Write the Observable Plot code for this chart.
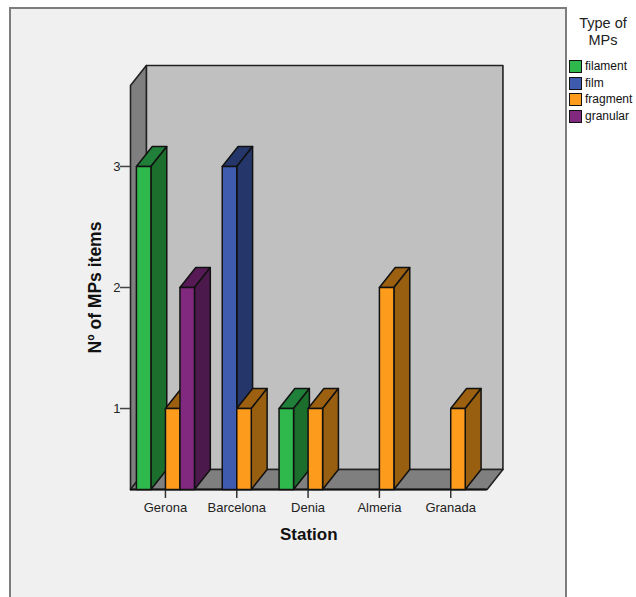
<!DOCTYPE html>
<html>
<head>
<meta charset="utf-8">
<script src="https://cdn.jsdelivr.net/npm/d3@7"></script>
<script src="https://cdn.jsdelivr.net/npm/@observablehq/plot@0.6"></script>
<style>
html,body{margin:0;padding:0;background:#fff;overflow:hidden;width:636px;height:597px;font-family:"Liberation Sans",Arial,sans-serif}
#frame{position:absolute;left:9px;top:7px;width:554px;height:640px;background:#f0f0f0;border:2px solid #7d7d7d;box-sizing:content-box}
#chart{position:absolute;left:0;top:0}
#chart svg{background:transparent;display:block}
#lt{position:absolute;left:570px;width:66px;top:15px;text-align:center;font-size:14.5px;line-height:17px;color:#222}
.li{position:absolute;left:569px;font-size:12px;line-height:14px;color:#111;white-space:nowrap}
.li i{position:absolute;left:0;top:0;width:11px;height:11px;border:1px solid #111;display:block}
.li span{position:absolute;left:16px;top:-1px}
</style>
</head>
<body>
<div id="frame"></div>
<div id="chart"></div>
<div id="lt">Type of<br>MPs</div>
<div id="legend"></div>
<script>
const stations = ["Gerona", "Barcelona", "Denia", "Almeria", "Granada"];
const types = ["filament", "film", "fragment", "granular"];
const filament = [3, 0, 1, 0, 0];
const film = [0, 3, 0, 0, 0];
const fragment = [1, 1, 1, 2, 1];
const granular = [2, 0, 0, 0, 0];
const yTicks = [1, 2, 3];

const series = [filament, film, fragment, granular];
const frontColors = ["#2fb84c", "#3f5bae", "#fd9b1c", "#80297f"];
const sideColors = ["#1c6e2d", "#25376a", "#985f10", "#4c194c"];
const topColors = ["#20803a", "#25376a", "#9d6010", "#571a56"];

const yMin = 0.331, yMax = 3.669, xMin = -0.49, xMax = 4.51;
const depthX = 0.222, depthY = 0.165, slot = 0.2035;

let pid = 0;
function poly(list, pts, fill) {
  const id = pid++;
  for (const [x, y] of pts) list.push({id, x, y, fill});
}
// Chart box
const box = [];
poly(box, [[xMin + depthX, yMin + depthY], [xMax + depthX, yMin + depthY], [xMax + depthX, yMax + depthY], [xMin + depthX, yMax + depthY]], "#c0c0c0");
poly(box, [[xMin, yMin], [xMin + depthX, yMin + depthY], [xMin + depthX, yMax + depthY], [xMin, yMax]], "#7f7f7f");
poly(box, [[xMin, yMin], [xMax, yMin], [xMax + depthX, yMin + depthY], [xMin + depthX, yMin + depthY]], "#7f7f7f");

// Bars in painter's order
const bars = [];
stations.forEach((s, i) => {
  series.forEach((vals, k) => {
    const v = vals[i];
    if (!v) return;
    const x0 = i + (k - 2) * slot, x1 = x0 + slot;
    poly(bars, [[x0, v], [x1, v], [x1 + depthX, v + depthY], [x0 + depthX, v + depthY]], topColors[k]);
    poly(bars, [[x1, yMin], [x1 + depthX, yMin + depthY], [x1 + depthX, v + depthY], [x1, v]], sideColors[k]);
    poly(bars, [[x0, yMin], [x1, yMin], [x1, v], [x0, v]], frontColors[k]);
  });
});

const plot = Plot.plot({
  width: 636, height: 597,
  marginLeft: 130, marginRight: 149.4, marginTop: 85, marginBottom: 108,
  style: {fontFamily: '"Liberation Sans",Arial,sans-serif', fontSize: "13px", color: "#222", background: "transparent", overflow: "visible"},
  x: {type: "linear", domain: [xMin, xMax]},
  y: {type: "linear", domain: [yMin, yMax]},
  marks: [
    Plot.line(box, {x: "x", y: "y", z: "id", fill: "fill", stroke: "#222", strokeWidth: 1.6, curve: "linear-closed"}),
    Plot.ruleY([yMin], {x1: xMin, x2: xMax, stroke: "#111", strokeWidth: 2}),
    Plot.axisY({ticks: yTicks, tickSize: 10, tickPadding: 0, stroke: "#444", strokeWidth: 1.5, tickFormat: d => d, label: null}),
    Plot.axisX({ticks: stations.map((_, i) => i), tickSize: 9, tickPadding: 4, stroke: "#333", strokeWidth: 1.5, tickFormat: d => stations[d], label: null}),
    Plot.line(bars, {x: "x", y: "y", z: "id", fill: "fill", stroke: "#111", strokeWidth: 1.5, curve: "linear-closed"}),
    Plot.text(["Station"], {frameAnchor: "bottom", dy: 45, lineAnchor: "middle", fontSize: 17, fontWeight: "bold", fill: "#111"}),
    Plot.text(["Nº of MPs items"], {frameAnchor: "left", textAnchor: "middle", dx: -35, rotate: -90, fontSize: 17.5, fontWeight: "bold", fill: "#111"})
  ]
});
document.getElementById("chart").append(plot);

const lg = document.getElementById("legend");
types.forEach((t, k) => {
  const el = document.createElement("div");
  el.className = "li";
  el.style.top = (60 + k * 16.6) + "px";
  el.innerHTML = `<i style="background:${frontColors[k]}"></i><span>${t}</span>`;
  lg.append(el);
});
</script>
</body>
</html>
